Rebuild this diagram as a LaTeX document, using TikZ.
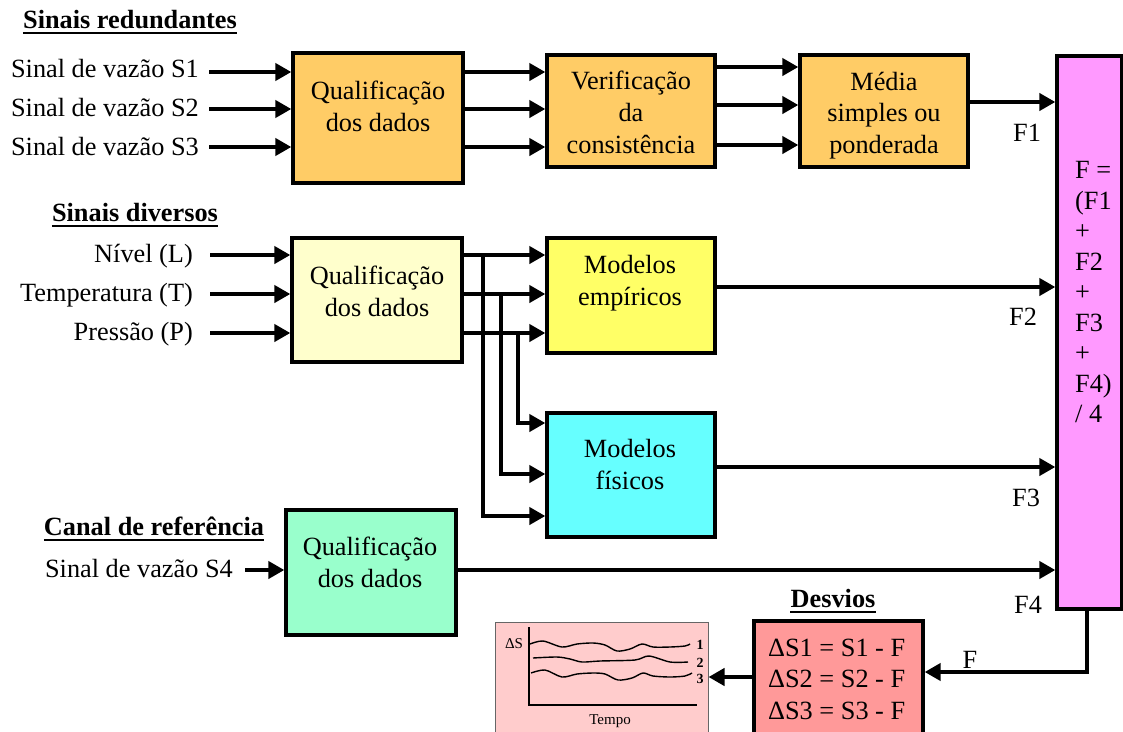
\documentclass[tikz,border=0pt]{standalone}
\usepackage{fontspec}
\setmainfont{Liberation Serif}
\usetikzlibrary{arrows.meta}

\definecolor{cOrange}{HTML}{FFCC66}
\definecolor{cCream}{HTML}{FFFFCC}
\definecolor{cYellow}{HTML}{FFFF66}
\definecolor{cCyan}{HTML}{66FFFF}
\definecolor{cMint}{HTML}{99FFCC}
\definecolor{cMagenta}{HTML}{FF99FF}
\definecolor{cSalmon}{HTML}{FF9999}
\definecolor{cRose}{HTML}{FFCCCC}

\tikzset{
  blk/.style={draw=black, line width=3.3pt, rectangle, inner sep=0pt},
  arr/.style={line width=4pt, -{Triangle[length=16pt,width=17pt]}},
  wire/.style={line width=4pt},
  txt/.style={anchor=base, inner sep=0pt, font=\fontsize{26.3}{31}\selectfont},
  lft/.style={txt, anchor=base east},
  lal/.style={txt, anchor=base west},
  ttl/.style={txt, font=\fontsize{26.3}{31}\selectfont\bfseries},
  uline/.style={line width=2.3pt},
  small/.style={anchor=base, inner sep=0pt, font=\fontsize{15}{18}\selectfont},
  num/.style={anchor=base, inner sep=0pt, font=\fontsize{14}{16}\selectfont\bfseries},
  trace/.style={line width=1.4pt, line join=round}
}

\begin{document}
\begin{tikzpicture}[x=1pt, y=-1pt]
\clip (0,0) rectangle (1123,731);
\fill[white] (0,0) rectangle (1123,731);

% ---------- blocks ----------
\node[blk, fill=cOrange, minimum width=170pt, minimum height=130pt] (q1) at (378,118) {};
\node[blk, fill=cOrange, minimum width=168pt, minimum height=112pt] (v)  at (631,111) {};
\node[blk, fill=cOrange, minimum width=168pt, minimum height=112pt] (m)  at (884,111) {};
\node[blk, fill=cMagenta, minimum width=65pt, minimum height=553pt] (pk) at (1089.5,332.5) {};
\node[blk, fill=cCream, minimum width=170pt, minimum height=124pt] (q2) at (377,300) {};
\node[blk, fill=cYellow, minimum width=168pt, minimum height=115pt] (me) at (631,295.5) {};
\node[blk, fill=cCyan, minimum width=168pt, minimum height=124pt] (mf) at (631,475) {};
\node[blk, fill=cMint, minimum width=170pt, minimum height=125pt] (q3) at (371,572.5) {};
\node[blk, fill=cSalmon, minimum width=169pt, minimum height=129pt] (dv) at (838.5,685.5) {};
\node[draw=black!60, line width=1pt, fill=cRose, inner sep=0pt, minimum width=213pt, minimum height=138pt] (ch) at (601.5,691) {};

% ---------- section titles ----------
\node[ttl] (t1) at (130,28) {Sinais redundantes};
\draw[uline] ([yshift=-5pt]t1.base west) -- ([yshift=-5pt]t1.base east);
\node[ttl] (t2) at (135,221) {Sinais diversos};
\draw[uline] ([yshift=-5pt]t2.base west) -- ([yshift=-5pt]t2.base east);
\node[ttl] (t3) at (154,535) {Canal de referência};
\draw[uline] ([yshift=-5pt]t3.base west) -- ([yshift=-5pt]t3.base east);
\node[ttl] (t4) at (833,607) {Desvios};
\draw[uline] ([yshift=-5pt]t4.base west) -- ([yshift=-5pt]t4.base east);

% ---------- input signals ----------
\node[lft] (s1) at (199,77) {Sinal de vazão S1};
\node[lft] (s2) at (199,116) {Sinal de vazão S2};
\node[lft] (s3) at (199,155) {Sinal de vazão S3};
\node[lft] (nl) at (193,262) {Nível (L)};
\node[lft] (tp) at (193,301) {Temperatura (T)};
\node[lft] (pr) at (193,340) {Pressão (P)};
\node[lft] (s4) at (233,577) {Sinal de vazão S4};

% ---------- block texts ----------
\node[txt] (q1a) at (378,99) {Qualificação};
\node[txt] (q1b) at (378,131) {dos dados};
\node[txt] (va) at (631,89) {Verificação};
\node[txt] (vb) at (631,121) {da};
\node[txt] (vc) at (631,153) {consistência};
\node[txt] (ma) at (884,90) {Média};
\node[txt] (mb) at (884,121) {simples ou};
\node[txt] (mc) at (884,153) {ponderada};
\node[txt] (q2a) at (377,284) {Qualificação};
\node[txt] (q2b) at (377,316) {dos dados};
\node[txt] (mea) at (630,273) {Modelos};
\node[txt] (meb) at (630,305) {empíricos};
\node[txt] (mfa) at (630,457) {Modelos};
\node[txt] (mfb) at (630,489) {físicos};
\node[txt] (q3a) at (370,555) {Qualificação};
\node[txt] (q3b) at (370,587) {dos dados};

\node[lal] (p1) at (1075,178) {F =};
\node[lal] (p2) at (1075,209) {(F1};
\node[lal] (p3) at (1075,239) {+};
\node[lal] (p4) at (1075,270) {F2};
\node[lal] (p5) at (1075,300) {+};
\node[lal] (p6) at (1075,331) {F3};
\node[lal] (p7) at (1075,361) {+};
\node[lal] (p8) at (1075,392) {F4)};
\node[lal] (p9) at (1075,422) {/ 4};

\node[lal] (d1) at (768,656) {ΔS1 = S1 - F};
\node[lal] (d2) at (768,687) {ΔS2 = S2 - F};
\node[lal] (d3) at (768,719) {ΔS3 = S3 - F};

% ---------- flow labels ----------
\node[txt] (f1) at (1027,141) {F1};
\node[txt] (f2) at (1023,325) {F2};
\node[txt] (f3) at (1026,506) {F3};
\node[txt] (f4) at (1028,613) {F4};
\node[txt] (ff) at (970,668) {F};

% ---------- level rows ----------
\coordinate (y1) at (0,72);   \coordinate (y2) at (0,109);  \coordinate (y3) at (0,147);
\coordinate (w1) at (0,67);   \coordinate (w2) at (0,105);  \coordinate (w3) at (0,145);
\coordinate (z1) at (0,255);  \coordinate (z2) at (0,294);  \coordinate (z3) at (0,333);

% ---------- redundant signals ----------
\coordinate (s1o) at (209,72);
\coordinate (s2o) at (209,109);
\coordinate (s3o) at (209,147);
\draw[arr] (s1o) -- (q1.west |- s1o);
\draw[arr] (s2o) -- (q1.west |- s2o);
\draw[arr] (s3o) -- (q1.west |- s3o);
\draw[arr] (q1.east |- y1) -- (v.west |- y1);
\draw[arr] (q1.east |- y2) -- (v.west |- y2);
\draw[arr] (q1.east |- y3) -- (v.west |- y3);
\draw[arr] (v.east |- w1) -- (m.west |- w1);
\draw[arr] (v.east |- w2) -- (m.west |- w2);
\draw[arr] (v.east |- w3) -- (m.west |- w3);
\coordinate (mo) at (0,102);
\draw[arr] (m.east |- mo) -- (pk.west |- mo);

% ---------- diverse signals ----------
\coordinate (nlo) at (210,255);
\coordinate (tpo) at (210,294);
\coordinate (pro) at (210,333);
\draw[arr] (nlo) -- (q2.west |- nlo);
\draw[arr] (tpo) -- (q2.west |- tpo);
\draw[arr] (pro) -- (q2.west |- pro);
\draw[arr] (q2.east |- z1) -- (me.west |- z1);
\draw[arr] (q2.east |- z2) -- (me.west |- z2);
\draw[arr] (q2.east |- z3) -- (me.west |- z3);
\coordinate (b1) at (483,255);
\coordinate (b2) at (501,294);
\coordinate (b3) at (518,333);
\draw[arr] (b1) |- (mf.west |- 0,516);
\draw[arr] (b2) |- (mf.west |- 0,474);
\draw[arr] (b3) |- (mf.west |- 0,423);
\coordinate (meo) at (0,287);
\coordinate (mfo) at (0,467);
\draw[arr] (me.east |- meo) -- (pk.west |- meo);
\draw[arr] (mf.east |- mfo) -- (pk.west |- mfo);

% ---------- reference channel ----------
\coordinate (s4o) at (245,570);
\draw[arr] (s4o) -- (q3.west |- s4o);
\draw[arr] (q3.east |- s4o) -- (pk.west |- s4o);

% ---------- deviations ----------
\coordinate (fb) at (1087,672);
\draw[arr] (pk.south -| fb) -- (fb) -- (dv.east |- fb);
\coordinate (dvo) at (0,677);
\draw[arr] (dv.west |- dvo) -- (ch.east |- dvo);

% ---------- deviation chart ----------
\draw[line width=1.4pt] (529,627) -- (529,705) -- (697,705);
\node[small] (ds) at (514,648) {ΔS};
\node[small] (tm) at (610,724) {Tempo};
\draw[trace] plot[smooth, tension=0.5] coordinates {(530,644) (543,641) (562,647) (577,644) (593,643) (605,645) (617,651) (630,649) (642,644) (653,647) (670,647) (685,646) (690,644)};
\draw[trace] plot[smooth, tension=0.5] coordinates {(533,658) (557,657) (570,659) (582,662) (600,661) (635,660) (649,656) (670,662) (688,662)};
\draw[trace] plot[smooth, tension=0.5] coordinates {(531,673) (545,670) (562,677) (577,674) (593,673) (605,674) (618,680) (632,678) (643,673) (653,676) (670,677) (685,676) (692,673)};
\node[num] (n1) at (700,649) {1};
\node[num] (n2) at (700,667) {2};
\node[num] (n3) at (700,683) {3};
\end{tikzpicture}
\end{document}
